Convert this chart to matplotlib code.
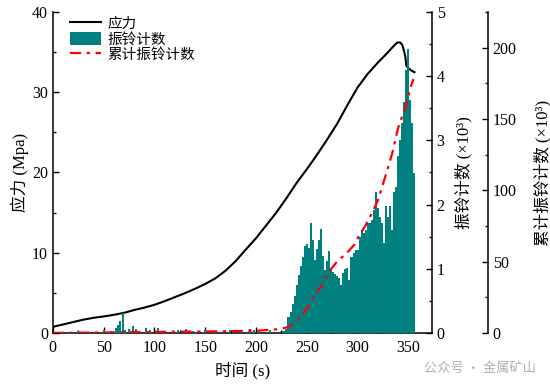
import matplotlib
matplotlib.use('Agg')
import matplotlib.pyplot as plt
from matplotlib.patches import Patch
from matplotlib.lines import Line2D
from matplotlib.ticker import MultipleLocator

plt.rcParams['font.family'] = ['Liberation Serif', 'Noto Sans CJK SC']
plt.rcParams['axes.unicode_minus'] = False

TEAL = '#008080'
RED = '#ff0000'

# stress curve (s, MPa)
stress_t = [0, 10, 20, 30, 40, 50, 60, 70, 80, 90, 100, 110, 120, 130, 140, 150,
            160, 170, 180, 190, 200, 210, 220, 230, 240, 250, 260, 270, 280, 290,
            300, 310, 320, 330, 335, 339, 342, 344, 346, 347, 348, 350, 353, 356]
stress_v = [0.75, 1.05, 1.35, 1.65, 1.88, 2.05, 2.25, 2.5, 2.85, 3.15, 3.5, 3.95,
            4.45, 4.95, 5.5, 6.1, 6.8, 7.75, 8.95, 10.4, 11.8, 13.4, 15.0, 16.8,
            18.7, 20.4, 22.2, 24.1, 26.1, 28.4, 30.6, 32.3, 33.7, 35.0, 35.7, 36.2,
            36.2, 35.9, 35.0, 34.4, 33.3, 33.0, 32.7, 32.5]

# ring counts (x10^3), 2 s bins
ring_t = [25, 36, 50, 57, 62, 64, 66, 69, 71, 75, 79, 82, 92, 96, 104, 110, 123,
          131, 138, 150, 160, 174, 186, 194, 198, 202, 214, 227,
          228, 230, 232, 234, 236, 238, 240, 242, 244, 246, 248, 250, 252, 254,
          256, 258, 260, 262, 264, 266, 268, 270, 272, 274, 276, 278, 280, 282,
          284, 286, 288, 290, 292, 294, 296, 298, 300, 302, 304, 306, 308, 310,
          312, 314, 316, 318, 320, 322, 324, 326, 328, 330, 332, 334, 336, 338,
          340, 342, 344, 346, 348, 350, 352, 354, 356]
ring_v = [0.03, 0.02, 0.05, 0.03, 0.08, 0.12, 0.18, 0.31, 0.05, 0.06, 0.1, 0.06,
          0.08, 0.04, 0.07, 0.03, 0.04, 0.06, 0.03, 0.05, 0.03, 0.04, 0.03, 0.06,
          0.05, 0.04, 0.04, 0.03,
          0.03, 0.06, 0.25, 0.33, 0.45, 0.57, 0.75, 0.9, 1.05, 1.18, 1.35, 1.38,
          1.32, 1.72, 1.45, 1.14, 1.3, 1.45, 1.62, 1.2, 0.98, 1.12, 1.27, 1.01,
          0.95, 0.92, 0.88, 0.85, 0.75, 0.93, 1.0, 1.01, 0.83, 1.19, 1.25, 1.29,
          1.29, 1.5, 1.6, 1.56, 1.6, 1.71, 1.72, 1.76, 1.92, 2.2, 1.95, 1.8, 1.72,
          1.4, 1.97, 1.8, 1.97, 1.6, 2.2, 2.28, 2.75, 3.0, 3.27, 3.6, 4.1, 4.43,
          3.63, 3.27, 2.49]

# cumulative ring counts (x10^3)
cum_t = [0, 50, 100, 150, 200, 220, 227, 233, 240, 248, 256, 265, 273, 281, 289,
         297, 302, 307, 314, 320, 327, 334, 340, 347, 352, 355]
cum_v = [0, 0.3, 0.7, 1.0, 1.5, 2.5, 3.3, 4.4, 7.9, 14.9, 24.3, 33.6, 44, 51,
         55.7, 62, 69, 74.3, 83.7, 93, 109, 125.7, 144, 158, 172, 178]

fig = plt.figure(figsize=(5.5, 3.88), dpi=100)
ax1 = fig.add_axes([0.096, 0.142, 0.689, 0.827])
ax2 = ax1.twinx()
ax3 = ax1.twinx()

ax1.plot(stress_t, stress_v, color='black', lw=1.5, zorder=3)
ax2.bar(ring_t, ring_v, width=2.0, color=TEAL, linewidth=0)
ax3.plot(cum_t, cum_v, color=RED, lw=1.6, dashes=(5, 2.5, 1.5, 2.5))

ax1.set_xlim(0, 373)
ax1.set_ylim(0, 40)
ax2.set_ylim(0, 5)
ax3.set_ylim(0, 225)

ax1.xaxis.set_major_locator(MultipleLocator(50))
ax1.xaxis.set_minor_locator(MultipleLocator(25))
ax1.yaxis.set_major_locator(MultipleLocator(10))
ax1.yaxis.set_minor_locator(MultipleLocator(5))
ax2.yaxis.set_major_locator(MultipleLocator(1))
ax2.yaxis.set_minor_locator(MultipleLocator(0.5))
ax3.yaxis.set_major_locator(MultipleLocator(50))
ax3.yaxis.set_minor_locator(MultipleLocator(25))

for ax in (ax1, ax2, ax3):
    ax.spines['top'].set_visible(False)
    for s in ax.spines.values():
        s.set_linewidth(1.1)
    ax.tick_params(which='major', direction='in', length=4.5, width=1.0,
                   labelsize=11.5)
    ax.tick_params(which='minor', direction='in', length=2.5, width=1.0)
ax1.spines['right'].set_visible(False)
ax3.spines['right'].set_position(('axes', 1.148))
for ax in (ax2, ax3):
    ax.spines['left'].set_visible(False)
    ax.spines['bottom'].set_visible(False)
ax1.tick_params(axis='x', pad=5)

ax1.set_xlabel('时间 (s)', fontsize=12, labelpad=4)
ax1.set_ylabel('应力 (Mpa)', fontsize=12, labelpad=2)
ax2.set_ylabel('振铃计数 (×10³)', fontsize=12, labelpad=7)
ax3.set_ylabel('累计振铃计数 (×10³)', fontsize=12, labelpad=12)

handles = [Line2D([], [], color='black', lw=1.5),
           Patch(facecolor=TEAL, edgecolor='none'),
           Line2D([], [], color=RED, lw=1.6, dashes=(5, 2.5, 1.5, 2.5))]
labels = ['应力', '振铃计数', '累计振铃计数']
fig.legend(handles, labels, loc='upper left', bbox_to_anchor=(0.128, 0.957),
           frameon=False, fontsize=10.5, handlelength=2.1, handleheight=1.0,
           handletextpad=0.45, labelspacing=0.05, borderpad=0, borderaxespad=0)

fig.text(0.77, 0.05, '公众号 · 金属矿山', fontsize=9.5, color='#b0b0b0',
         family=['Noto Sans CJK SC'], ha='left', va='center')

fig.savefig('out.png', dpi=100)
